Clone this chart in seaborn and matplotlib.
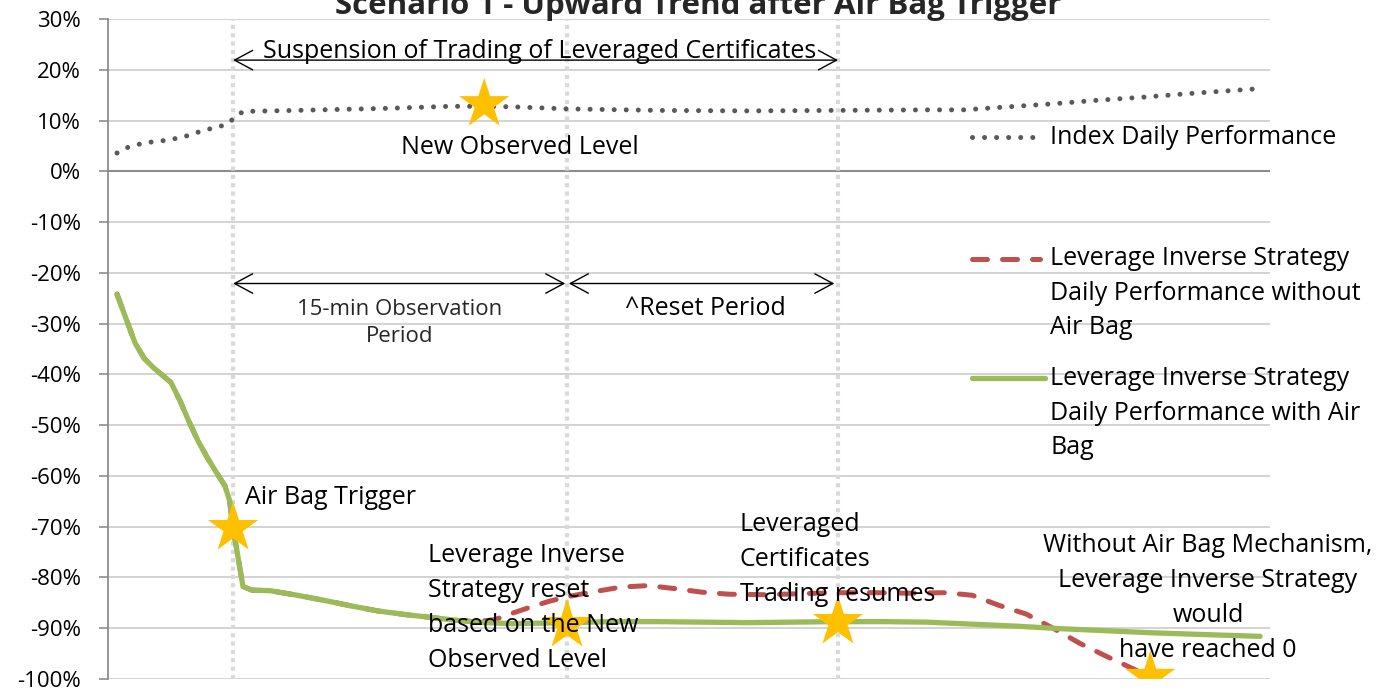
import matplotlib
matplotlib.use("Agg")
import matplotlib.pyplot as plt
import seaborn as sns

# intraday observation steps and daily performance (%)
index_t = [0, 1, 3, 4, 5, 7, 8, 9, 11, 12, 13, 14, 20, 30, 37, 41, 44, 50,
           60, 70, 80, 90, 94, 99, 104, 109, 114, 119, 127]
index_perf = [3.6, 4.6, 5.6, 5.8, 6.0, 6.6, 7.1, 7.7, 8.7, 9.1, 10.4, 11.8, 12.0,
              12.4, 12.8, 12.8, 12.7, 12.3, 12.0, 11.9, 12.0, 12.1, 12.1, 12.7,
              13.3, 14.0, 14.6, 15.3, 16.3]

airbag_t = [0, 1, 2, 3, 4, 5, 6, 7, 8, 9, 10, 11, 12, 12.5, 12.9, 14, 15, 17,
            20, 23, 26, 29, 32, 35, 38, 41, 44, 47, 50, 55, 60, 65, 70, 75, 80,
            85, 90, 95, 100, 105, 110, 115, 120, 127]
airbag_perf = [-24.2, -29.0, -33.8, -36.8, -38.6, -40.1, -41.6, -45.2, -49.3,
               -53.1, -56.3, -59.2, -62.0, -64.8, -70.3, -81.8, -82.5, -82.6,
               -83.5, -84.5, -85.6, -86.6, -87.3, -87.9, -88.5, -88.9, -89.1,
               -89.0, -88.9, -88.7, -88.7, -88.8, -88.9, -88.8, -88.7, -88.7,
               -88.8, -89.2, -89.6, -90.1, -90.5, -90.9, -91.2, -91.6]

no_airbag_t = [0, 1, 2, 3, 4, 5, 6, 7, 8, 9, 10, 11, 12, 12.5, 12.9, 14, 15, 17,
               20, 23, 26, 29, 32, 35, 38, 40, 42, 44, 46, 48, 50, 53, 56, 59,
               62, 65, 68, 72, 76, 80, 84, 88, 92, 95, 98, 101, 104, 107, 110,
               113.5]
no_airbag_perf = [-24.2, -29.0, -33.8, -36.8, -38.6, -40.1, -41.6, -45.2, -49.3,
                  -53.1, -56.3, -59.2, -62.0, -64.8, -70.3, -81.8, -82.5, -82.6,
                  -83.5, -84.5, -85.6, -86.6, -87.3, -87.9, -88.5, -88.7, -88.3,
                  -87.0, -85.8, -84.7, -83.8, -82.8, -81.9, -81.6, -82.2, -82.9,
                  -83.3, -83.4, -83.2, -83.0, -83.0, -83.1, -83.0, -83.5, -85.5,
                  -87.2, -90.0, -93.0, -95.6, -98.5]

event_t = [12.9, 50, 80.1]          # air bag trigger, reset, trading resumes
star_t = [12.9, 40.8, 50, 80.1, 114.8]
star_perf = [-70.3, 13.2, -89.4, -88.8, -99.6]

y_ticks = list(range(-100, 31, 10))

FONT = ["Open Sans", "DejaVu Sans"]
GREY_DOT = "#595959"
RED = "#C0504D"
GREEN = "#9BBB59"
GOLD = "#FFC000"

sns.set_style("white")
plt.rcParams["font.family"] = FONT

fig = plt.figure(figsize=(13.97, 6.91), dpi=100)
ax = fig.add_axes([108 / 1397, 12 / 691, 1162 / 1397, 660 / 691])

# gridlines and axes
ax.set_ylim(-100, 30)
ax.set_xlim(-1, 128.1)
ax.set_yticks(y_ticks)
ax.set_yticklabels([f"{v}%" for v in y_ticks])
ax.set_xticks([])
ax.yaxis.grid(True, color="#D0D0D0", lw=1.3, zorder=0)
ax.axhline(0, color="#8C8C8C", lw=1.5, zorder=1)
for s in ["top", "right", "bottom"]:
    ax.spines[s].set_visible(False)
ax.spines["left"].set_color("#8C8C8C")
ax.spines["left"].set_linewidth(1.3)
ax.tick_params(axis="y", length=6.5, width=1.2, color="#8C8C8C", pad=13,
               labelsize=16, labelcolor="black", left=True)

for t in event_t:
    ax.axvline(t, color="#D9D9D9", lw=3, linestyle=(0, (1, 1)), zorder=1)

# series
sns.lineplot(x=index_t, y=index_perf, ax=ax, color=GREY_DOT, lw=3.6,
             linestyle=(0, (0.01, 2.4)), dash_capstyle="round", zorder=3)
sns.lineplot(x=no_airbag_t, y=no_airbag_perf, ax=ax, color=RED, lw=3.6,
             linestyle=(0, (3.0, 3.0)), dash_capstyle="round", zorder=3)
sns.lineplot(x=airbag_t, y=airbag_perf, ax=ax, color=GREEN, lw=3.8,
             solid_capstyle="round", zorder=4)
sns.scatterplot(x=star_t, y=star_perf, ax=ax, marker="*", s=1450, color=GOLD,
                edgecolor="none", linewidth=0, zorder=5)

# arrows
arrow = dict(arrowstyle="<->,head_length=0.65,head_width=0.35", color="black",
             lw=1, shrinkA=0, shrinkB=0, mutation_scale=20)
ax.annotate("", xy=(12.9, 21.9), xytext=(80.1, 21.9), arrowprops=arrow, zorder=6)
ax.annotate("", xy=(12.9, -22.1), xytext=(49.8, -22.1), arrowprops=arrow, zorder=6)
ax.annotate("", xy=(50.2, -22.1), xytext=(79.7, -22.1), arrowprops=arrow, zorder=6)

# annotations
FS = 18
LS = 1.52
txt = dict(fontsize=FS, color="black", zorder=7)
ax.text(47.0, 21.2, "Suspension of Trading of Leveraged Certificates",
        ha="center", va="bottom", **txt)
ax.text(44.8, 4.7, "New Observed Level", ha="center", va="center", **txt)
ax.text(31.4, -29.9, "15-min Observation\nPeriod", ha="center", va="center",
        linespacing=1.42, fontsize=16, zorder=7)
ax.text(65.4, -27.0, "^Reset Period", ha="center", va="center", **txt)
ax.text(14.2, -64.2, "Air Bag Trigger", ha="left", va="center", **txt)
ax.text(34.6, -86.0, "Leverage Inverse\nStrategy reset\nbased on the New\nObserved Level",
        ha="left", va="center", linespacing=LS, **txt)
ax.text(69.2, -76.4, "Leveraged\nCertificates\nTrading resumes",
        ha="left", va="center", linespacing=LS, **txt)
ax.text(121.2, -84.1,
        "Without Air Bag Mechanism,\nLeverage Inverse Strategy\nwould\nhave reached 0",
        ha="center", va="center", linespacing=LS, multialignment="center", **txt)

# legend (drawn by hand to keep Excel-like top-aligned keys)
tr = ax.transAxes
ax.plot([0.7435, 0.802], [0.8212, 0.8212], transform=tr, clip_on=False,
        color=GREY_DOT, lw=3.6, linestyle=(0, (0.01, 2.4)), dash_capstyle="round")
ax.text(0.8107, 0.8212, "Index Daily Performance", transform=tr, ha="left",
        va="center", **txt)
ax.plot([0.7435, 0.802], [0.6364, 0.6364], transform=tr, clip_on=False,
        color=RED, lw=3.6, linestyle=(0, (3.0, 3.0)), dash_capstyle="round")
ax.text(0.8107, 0.5848, "Leverage Inverse Strategy\nDaily Performance without\nAir Bag",
        transform=tr, ha="left", va="center", linespacing=LS, **txt)
ax.plot([0.7435, 0.806], [0.4561, 0.4561], transform=tr, clip_on=False,
        color=GREEN, lw=3.8, solid_capstyle="round")
ax.text(0.8107, 0.403, "Leverage Inverse Strategy\nDaily Performance with Air\nBag",
        transform=tr, ha="left", va="center", linespacing=LS, **txt)

fig.text(0.5, 1 - 14 / 691, "Scenario 1 - Upward Trend after Air Bag Trigger",
         ha="center", va="baseline", fontsize=22.5, fontweight="bold")

fig.savefig("out.png", dpi=100)
